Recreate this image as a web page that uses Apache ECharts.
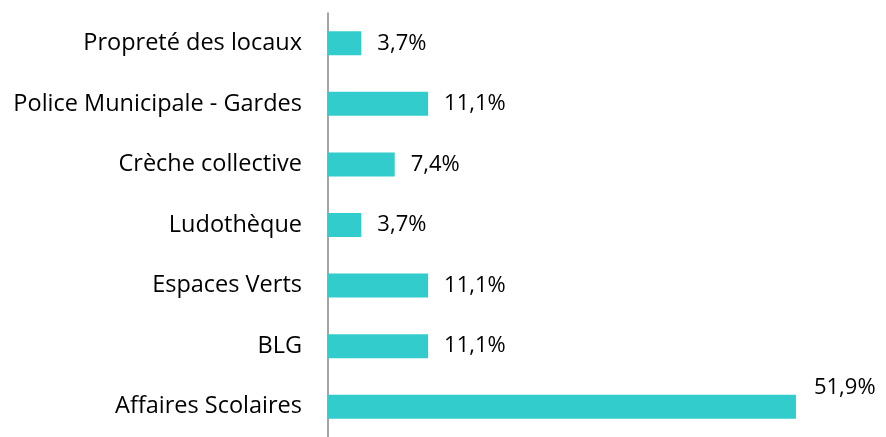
<!DOCTYPE html>
<html>
<head>
<meta charset="utf-8">
<script src="https://cdn.jsdelivr.net/npm/echarts@6/dist/echarts.min.js"></script>
<style>
    html, body { margin: 0; padding: 0; background: #fff; }
    #main { width: 886px; height: 437px; }
</style>
</head>
<body>
<div id="main"></div>
<script>
// data, from top to bottom as drawn
const categories = [
    'Propreté des locaux',
    'Police Municipale - Gardes',
    'Crèche collective',
    'Ludothèque',
    'Espaces Verts',
    'BLG',
    'Affaires Scolaires'
];
const values = [3.7, 11.1, 7.4, 3.7, 11.1, 11.1, 51.9];

var dom = document.getElementById('main');
var myChart = echarts.init(dom, null, { renderer: 'canvas' });

const font = '"Open Sans", sans-serif';

var seriesData = values.map(function (v, i) {
    var item = { value: v };
    // the longest bar has its label set above-right
    if (v === 51.9) {
        item.label = { offset: [2, -19] };
    }
    return item;
});

var option = {
    animation: false,
    grid: {
        left: 328,
        right: 17,
        top: 13,
        height: 429
    },
    xAxis: {
        type: 'value',
        min: 0,
        max: 60,
        show: false
    },
    yAxis: {
        type: 'category',
        inverse: true,
        data: categories,
        axisLine: { show: true, lineStyle: { color: '#868686', width: 1.5 } },
        axisTick: { show: false },
        axisLabel: {
            color: '#000',
            fontFamily: font,
            fontSize: 23.5,
            margin: 26,
            padding: [3, 0, 0, 0]
        }
    },
    series: [
        {
            type: 'bar',
            barWidth: 24,
            itemStyle: { color: '#33CCCC' },
            label: {
                show: true,
                position: 'right',
                distance: 16,
                color: '#000',
                fontFamily: font,
                fontSize: 22,
                padding: [2, 0, 0, 0],
                formatter: function (p) {
                    return p.value.toFixed(1).replace('.', ',') + '%';
                }
            },
            data: seriesData
        }
    ]
};

myChart.setOption(option);
window.addEventListener('resize', myChart.resize);
</script>
</body>
</html>
